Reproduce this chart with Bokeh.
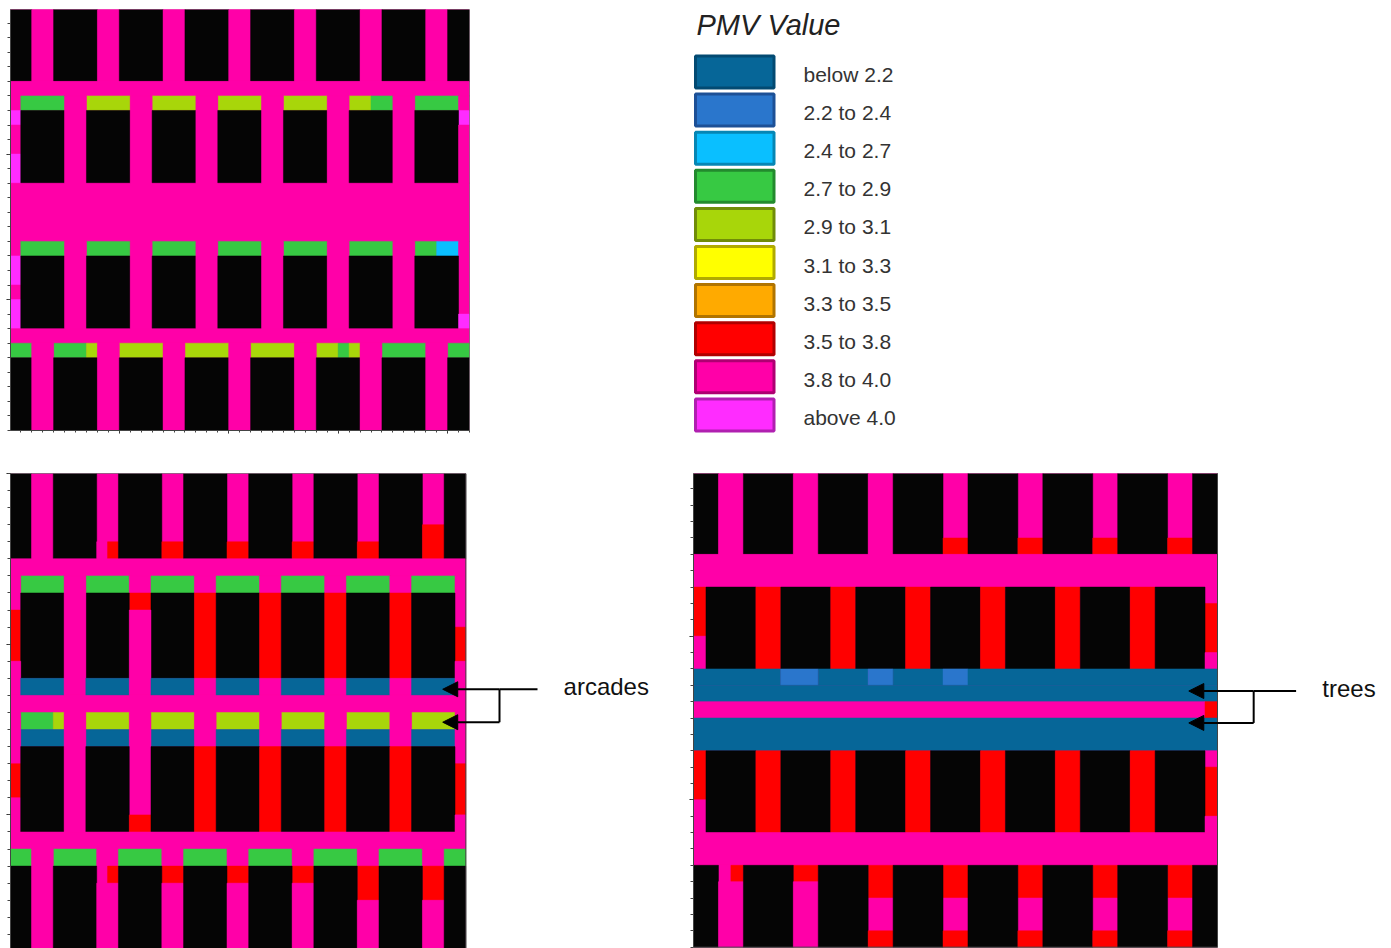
from bokeh.plotting import figure
from bokeh.layouts import column, row
from bokeh.models import (Range1d, LinearAxis, FixedTicker, Arrow, NormalHead, ColumnDataSource)
from bokeh.core.properties import value
from bokeh.embed import file_html
from bokeh.resources import INLINE

# ---- legend classes -------------------------------------------------
LEGEND_TITLE = "PMV Value"
CLASS_LABELS = ["below 2.2", "2.2 to 2.4", "2.4 to 2.7", "2.7 to 2.9", "2.9 to 3.1",
                "3.1 to 3.3", "3.3 to 3.5", "3.5 to 3.8", "3.8 to 4.0", "above 4.0"]
CLASS_CODES = ["B", "S", "C", "G", "L", "Y", "O", "R", "P", "V"]
CLASS_FILL = ["#066698", "#2A76CC", "#0ABFFF", "#37C943", "#A8D60A",
              "#FFFF00", "#FFAA00", "#FF0000", "#FF00A8", "#FF2CFF"]
CLASS_EDGE = ["#034A72", "#1D5096", "#0686B4", "#238A2E", "#708C08",
              "#B0AA00", "#B07400", "#B00000", "#AE0072", "#B020B0"]
BUILDING = "#050505"

T = "##PP####PP####PP####PP####PP####PP####PP##"
A = "P" * 42
N = "B" * 42

# ---- PMV class per grid cell ('#' = building) ------------------------
CASE_BASE = [
    T, T, T, T, T, A,
    "PGGGGPPLLLLPPLLLLPPLLLLPPLLLLPPLLGGPPGGGGP",
    "V####PP####PP####PP####PP####PP####PP####V",
    "P####PP####PP####PP####PP####PP####PP####P",
    "P####PP####PP####PP####PP####PP####PP####P",
    "V####PP####PP####PP####PP####PP####PP####P",
    "V####PP####PP####PP####PP####PP####PP####P",
    A, A, A, A,
    "PGGGGPPGGGGPPGGGGPPGGGGPPGGGGPPGGGGPPGGCCP",
    "V####PP####PP####PP####PP####PP####PP####P",
    "V####PP####PP####PP####PP####PP####PP####P",
    "P####PP####PP####PP####PP####PP####PP####P",
    "V####PP####PP####PP####PP####PP####PP####P",
    "V####PP####PP####PP####PP####PP####PP####V",
    A,
    "GGPPGGGLPPLLLLPPLLLLPPLLLLPPLLGLPPGGGGPPGG",
    T, T, T, T, T,
]

CASE_ARCADES = [
    T, T, T,
    "##PP####PP####PP####PP####PP####PP####RR##",
    "##PP####PR####RR####RR####RR####RR####RR##",
    A,
    "PGGGGPPGGGGPPGGGGPPGGGGPPGGGGPPGGGGPPGGGGP",
    "P####PP####RR####RR####RR####RR####RR####P",
    "R####PP####PP####RR####RR####RR####RR####P",
    "R####PP####PP####RR####RR####RR####RR####R",
    "R####PP####PP####RR####RR####RR####RR####R",
    "P####PP####PP####RR####RR####RR####RR####P",
    "PBBBBPPBBBBPPBBBBPPBBBBPPBBBBPPBBBBPPBBBBP",
    A,
    "PGGGLPPLLLLPPLLLLPPLLLLPPLLLLPPLLLLPPLLLLP",
    "PBBBBPPBBBBPPBBBBPPBBBBPPBBBBPPBBBBPPBBBBP",
    "P####PP####PP####RR####RR####RR####RR####P",
    "R####PP####PP####RR####RR####RR####RR####R",
    "R####PP####PP####RR####RR####RR####RR####R",
    "P####PP####PP####RR####RR####RR####RR####R",
    "P####PP####RR####RR####RR####RR####RR####P",
    A,
    "GGPPGGGGPPGGGGPPGGGGPPGGGGPPGGGGPPGGGGPPGG",
    "##PP####PR####RR####RR####RR####RR####RR##",
    "##PP####PP####PP####PP####PP####RR####RR##",
    T, T, T,
]

CASE_TREES = [
    T, T, T, T,
    "##PP####PP####PP####RR####RR####RR####RR##",
    A, A,
    "R####RR####RR####RR####RR####RR####RR####P",
    "R####RR####RR####RR####RR####RR####RR####R",
    "R####RR####RR####RR####RR####RR####RR####R",
    "P####RR####RR####RR####RR####RR####RR####R",
    "P####RR####RR####RR####RR####RR####RR####P",
    "BBBBBBBSSSBBBBSSBBBBSSBBBBBBBBBBBBBBBBBBBB",
    N,
    "P" * 41 + "R",
    N, N,
    "R####RR####RR####RR####RR####RR####RR####P",
    "R####RR####RR####RR####RR####RR####RR####R",
    "R####RR####RR####RR####RR####RR####RR####R",
    "P####RR####RR####RR####RR####RR####RR####R",
    "P####RR####RR####RR####RR####RR####RR####P",
    A, A,
    "##PR####RR####RR####RR####RR####RR####RR##",
    "##PP####PP####RR####RR####RR####RR####RR##",
    T, T,
    "##PP####PP####RR####RR####RR####RR####RR##",
]

ANNOT_ARCADES = "arcades"
ANNOT_TREES = "trees"

FILL = dict(zip(CLASS_CODES, CLASS_FILL))
FILL["#"] = BUILDING
FONT = value("Liberation Sans")
AXIS_COLOR = "#444444"


def runs(rows):
    """Merge equal neighbouring cells into quads: along each row, then down identical runs."""
    open_runs, done = {}, []
    for y, line in enumerate(rows):
        now = {}
        start = 0
        for x in range(1, len(line) + 1):
            if x == len(line) or line[x] != line[start]:
                key = (start, x, line[start])
                now[key] = open_runs.pop(key, y)
                start = x
        for key, y0 in open_runs.items():
            done.append((key, y0, y))
        open_runs = now
    for key, y0 in open_runs.items():
        done.append((key, y0, len(rows)))
    return ColumnDataSource(dict(
        left=[k[0] for k, _, _ in done], right=[k[1] for k, _, _ in done],
        top=[a for _, a, _ in done], bottom=[b for _, _, b in done],
        color=[FILL[k[2]] for k, _, _ in done]))


def blank_labels(ticks):
    return {t: "" for t in ticks}


def panel(rows, width, height, x_start, x_end, y_start, y_end, left, right, top, bottom, below):
    p = figure(width=width, height=height, output_backend="svg", toolbar_location=None,
               x_range=Range1d(x_start, x_end), y_range=Range1d(y_end, y_start),
               x_axis_location=None, y_axis_location=None,
               min_border_left=left, min_border_right=right,
               min_border_top=top, min_border_bottom=bottom)
    p.frame_align = False
    p.grid.visible = False
    p.outline_line_color = None
    p.background_fill_color = "white"
    p.quad(left=[0], right=[42], top=[0], bottom=[len(rows)], fill_color=FILL["P"], line_color=None)
    p.quad(left="left", right="right", top="top", bottom="bottom", source=runs(rows),
           fill_color="color", line_color="color", line_width=0.5)
    p.quad(left=[0], right=[42], top=[0], bottom=[len(rows)], fill_color=None,
           line_color=AXIS_COLOR, line_width=1)
    yt = [0, 10, 20]
    ya = LinearAxis(ticker=FixedTicker(ticks=yt, minor_ticks=list(range(len(rows) + 1))),
                    major_tick_out=4, major_tick_in=0, minor_tick_out=3, minor_tick_in=0,
                    major_label_text_font_size="1px", major_label_standoff=0,
                    major_label_overrides=blank_labels(yt),
                    axis_line_color=AXIS_COLOR, major_tick_line_color="#222222",
                    minor_tick_line_color="#444444", bounds=(0, len(rows)))
    p.add_layout(ya, "left")
    if below:
        xt = [0, 10, 20, 30, 40]
        xa = LinearAxis(ticker=FixedTicker(ticks=xt, minor_ticks=list(range(43))),
                        major_tick_out=3, major_tick_in=0, minor_tick_out=2, minor_tick_in=0,
                        major_label_text_font_size="1px", major_label_standoff=0,
                        major_label_overrides=blank_labels(xt),
                        axis_line_color=AXIS_COLOR, major_tick_line_color="#222222",
                        minor_tick_line_color="#444444", bounds=(0, 42))
        p.add_layout(xa, "below")
    return p


def annotate(p, x_text, y_text, x_join, y_low, x_tip):
    p.line([x_text, x_join], [y_text, y_text], line_color="black", line_width=2)
    p.line([x_join, x_join], [y_text, y_low], line_color="black", line_width=2)
    for y in (y_text, y_low):
        p.add_layout(Arrow(end=NormalHead(size=15, fill_color="black", line_color="black", line_width=1),
                           x_start=x_join, y_start=y, x_end=x_tip, y_end=y,
                           line_color="black", line_width=2))


# top-left: page x 10..469, y 9..430
p1 = panel(CASE_BASE, 680, 465, 0.06, 42, 0.06, 29, 10, 211, 9, 35, True)

# bottom-left: frame from x=10 to figure edge, y=473 to page bottom
CELL2_W, CELL2_H = 456 / 42, 17.07
p2 = panel(CASE_ARCADES, 680, 483, 0.06, 670 / CELL2_W + 0.06, 0, 475 / CELL2_H, 10, 0, 8, 0, False)
annotate(p2, 48.6, 12.64, 45.1, 14.57, 39.87)
p2.text(x=[51.0], y=[12.5], text=[ANNOT_ARCADES], text_font=FONT, text_font_size="24px",
        text_baseline="middle", text_align="left", text_color="#111111")

# bottom-right: frame from x=693
CELL3_W, CELL3_H = 524 / 42, 16.35
p3 = panel(CASE_TREES, 711, 483, 0, 698 / CELL3_W, 0.06, 475 / CELL3_H + 0.03, 13, 0, 8, 0, False)
annotate(p3, 48.3, 13.35, 44.9, 15.3, 39.7)
p3.text(x=[50.4], y=[13.2], text=[ANNOT_TREES], text_font=FONT, text_font_size="24px",
        text_baseline="middle", text_align="left", text_color="#111111")

# legend block, laid out on a scale equal to the page's pixels
leg = figure(width=711, height=465, output_backend="svg", toolbar_location=None,
             x_range=Range1d(680, 1391), y_range=Range1d(465, 0),
             x_axis_location=None, y_axis_location=None,
             min_border_left=0, min_border_right=0, min_border_top=0, min_border_bottom=0)
leg.frame_align = False
leg.grid.visible = False
leg.outline_line_color = None
idx = list(range(len(CLASS_LABELS)))
leg.quad(left=[695] * 10, right=[773.5] * 10,
         top=[55.5 + 38.1 * i for i in idx], bottom=[87.5 + 38.1 * i for i in idx],
         fill_color=CLASS_FILL, line_color=CLASS_EDGE, line_width=3)
leg.text(x=[803] * 10, y=[74 + 38.1 * i for i in idx], text=CLASS_LABELS, text_font=FONT,
         text_font_size="21px", text_baseline="middle", text_align="left", text_color="#333333")
leg.text(x=[696], y=[24], text=[LEGEND_TITLE], text_font=FONT, text_font_size="29px",
         text_font_style="italic", text_baseline="middle", text_align="left", text_color="#222222")

layout = column(row(p1, leg), row(p2, p3))
open("out.html", "w").write(file_html(layout, INLINE))
